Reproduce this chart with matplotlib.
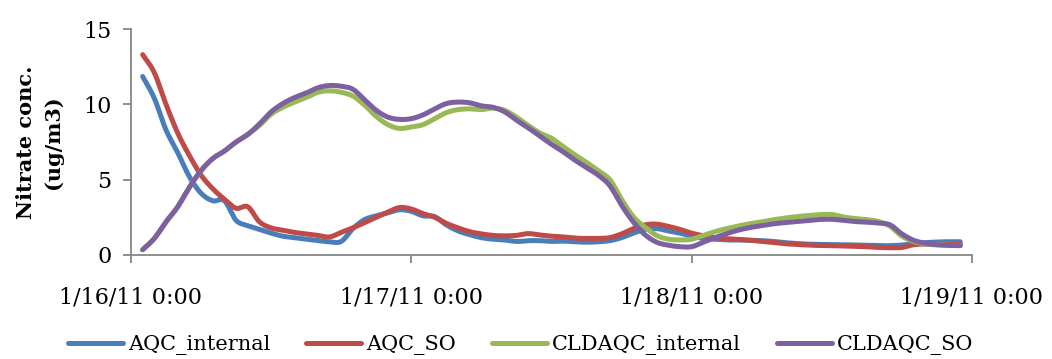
import numpy as np
import pandas as pd
import matplotlib
matplotlib.use("Agg")
import matplotlib.pyplot as plt
import matplotlib.dates as mdates

# hourly model output, 1/16/11 1:00 through 1/18/11 23:00
times = pd.date_range("2011-01-16 01:00", periods=71, freq="h")

aqc_internal = [
    11.85, 10.4, 8.3, 6.8, 5.2, 4.1, 3.6, 3.6, 2.3, 1.95, 1.7, 1.45,
    1.25, 1.15, 1.05, 0.95, 0.88, 0.9, 1.75, 2.35, 2.6, 2.8, 3.0, 2.9,
    2.6, 2.55, 2.0, 1.6, 1.35, 1.15, 1.05, 1.0, 0.9, 0.95, 0.95, 0.9,
    0.92, 0.88, 0.85, 0.88, 0.95, 1.15, 1.45, 1.7, 1.75, 1.6, 1.45, 1.25,
    1.1, 1.05, 1.0, 1.0, 0.98, 0.95, 0.9, 0.82, 0.76, 0.72, 0.7, 0.68,
    0.68, 0.66, 0.64, 0.62, 0.62, 0.66, 0.75, 0.82, 0.86, 0.88, 0.88,
]
aqc_so = [
    13.3, 12.1, 10.0, 8.1, 6.6, 5.3, 4.4, 3.7, 3.1, 3.2, 2.2, 1.8,
    1.65, 1.5, 1.4, 1.3, 1.2, 1.5, 1.8, 2.15, 2.5, 2.85, 3.15, 3.05,
    2.75, 2.5, 2.1, 1.8, 1.55, 1.4, 1.3, 1.27, 1.3, 1.42, 1.33, 1.25,
    1.2, 1.12, 1.1, 1.1, 1.15, 1.4, 1.75, 2.0, 2.05, 1.9, 1.7, 1.45,
    1.28, 1.15, 1.08, 1.04, 0.98, 0.9, 0.82, 0.75, 0.7, 0.66, 0.63, 0.62,
    0.6, 0.58, 0.55, 0.5, 0.48, 0.5, 0.68, 0.72, 0.7, 0.7, 0.73,
]
cldaqc_internal = [
    0.35, 1.1, 2.2, 3.2, 4.5, 5.6, 6.4, 6.9, 7.5, 8.0, 8.6, 9.35,
    9.8, 10.15, 10.45, 10.8, 10.9, 10.8, 10.55, 9.95, 9.2, 8.65, 8.4, 8.5,
    8.65, 9.05, 9.45, 9.65, 9.7, 9.65, 9.75, 9.6, 9.15, 8.6, 8.1, 7.75,
    7.2, 6.65, 6.15, 5.6, 5.0, 3.7, 2.55, 1.85, 1.3, 1.05, 1.0, 1.05,
    1.3, 1.55, 1.75, 1.92, 2.08, 2.2, 2.34, 2.45, 2.55, 2.62, 2.68, 2.69,
    2.52, 2.42, 2.35, 2.22, 1.9, 1.25, 0.9, 0.72, 0.68, 0.65, 0.63,
]
cldaqc_so = [
    0.35, 1.1, 2.2, 3.2, 4.5, 5.6, 6.4, 6.9, 7.5, 8.0, 8.7, 9.5,
    10.05, 10.45, 10.75, 11.1, 11.25, 11.2, 11.0, 10.3, 9.6, 9.15, 9.0, 9.05,
    9.3, 9.7, 10.05, 10.15, 10.1, 9.9, 9.8, 9.5, 8.95, 8.45, 7.9, 7.35,
    6.85, 6.3, 5.8, 5.3, 4.6, 3.3, 2.2, 1.35, 0.85, 0.65, 0.55, 0.55,
    0.85, 1.15, 1.42, 1.65, 1.82, 1.95, 2.07, 2.15, 2.22, 2.3, 2.36, 2.37,
    2.3, 2.22, 2.18, 2.12, 2.0, 1.4, 0.98, 0.78, 0.68, 0.64, 0.62,
]

series = [
    ("AQC_internal", aqc_internal, "#4A7EBB"),
    ("AQC_SO", aqc_so, "#BE4B48"),
    ("CLDAQC_internal", cldaqc_internal, "#98B954"),
    ("CLDAQC_SO", cldaqc_so, "#7D60A0"),
]

tick_times = pd.to_datetime(["2011-01-16", "2011-01-17", "2011-01-18", "2011-01-19"])
tick_labels = ["1/16/11 0:00", "1/17/11 0:00", "1/18/11 0:00", "1/19/11 0:00"]


def smooth_line(x, y, n=12):
    # Catmull-Rom curve through every point, like a spreadsheet "smoothed line"
    x = np.asarray(x, float)
    y = np.asarray(y, float)
    px = np.concatenate([[2 * x[0] - x[1]], x, [2 * x[-1] - x[-2]]])
    py = np.concatenate([[2 * y[0] - y[1]], y, [2 * y[-1] - y[-2]]])
    t = np.linspace(0, 1, n, endpoint=False)[:, None]
    t2, t3 = t * t, t * t * t
    out = []
    for p in (px, py):
        p0, p1, p2, p3 = p[:-3], p[1:-2], p[2:-1], p[3:]
        seg = 0.5 * (2 * p1 + (-p0 + p2) * t + (2 * p0 - 5 * p1 + 4 * p2 - p3) * t2
                     + (-p0 + 3 * p1 - 3 * p2 + p3) * t3)
        out.append(np.append(seg.T.ravel(), p[-2]))
    return out


plt.rcParams["font.family"] = "DejaVu Serif"

fig = plt.figure(figsize=(10.52, 3.59), dpi=100)
ax = fig.add_axes([0.1245, 0.2897, 0.7994, 0.6295])

xnum = mdates.date2num(times)
for name, vals, col in series:
    sx, sy = smooth_line(xnum, vals)
    ax.plot(sx, sy, color=col, lw=3.6, label=name,
            solid_capstyle="round", solid_joinstyle="round")

ax.set_xlim(tick_times[0], tick_times[-1])
ax.set_ylim(0, 15)
ax.set_yticks([0, 5, 10, 15])
ax.set_xticks(mdates.date2num(tick_times))
ax.set_xticklabels(tick_labels)

for s in ["top", "right"]:
    ax.spines[s].set_visible(False)
for s in ["left", "bottom"]:
    ax.spines[s].set_color("#868686")
    ax.spines[s].set_linewidth(1.3)
ax.tick_params(axis="both", colors="#868686", width=1.3, length=6,
               labelsize=16, labelcolor="black")
ax.tick_params(axis="x", pad=17)
ax.tick_params(axis="y", pad=8)

ax.set_ylabel("Nitrate conc.\n(ug/m3)", fontsize=15, fontweight="bold",
              linespacing=1.45, va="center")
ax.yaxis.set_label_coords(-0.109, 0.5)

fig.legend(loc="center", ncol=4, bbox_to_anchor=(0.495, 0.039),
           frameon=False, fontsize=15, handlelength=2.64, handletextpad=0.24,
           columnspacing=1.72)

fig.savefig("out.png", dpi=100)
